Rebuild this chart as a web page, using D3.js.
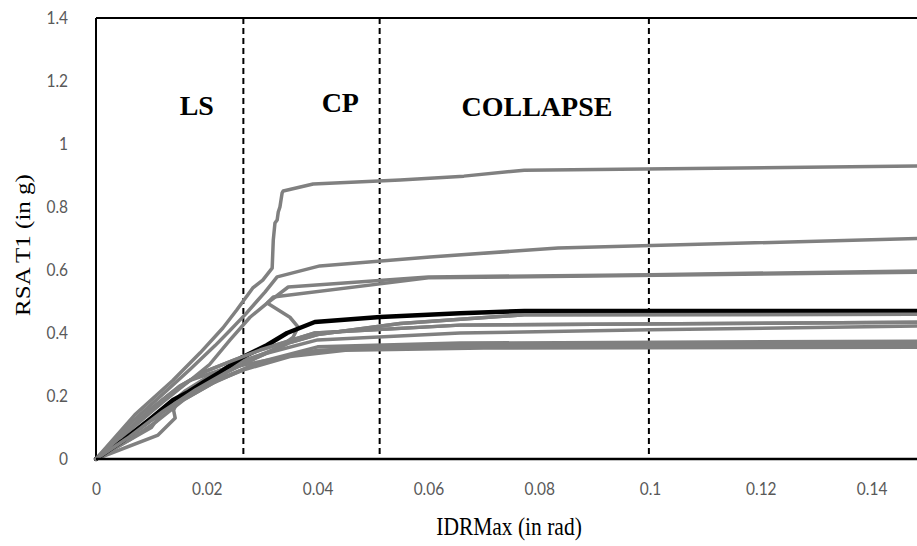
<!DOCTYPE html>
<html>
<head>
<meta charset="utf-8">
<script src="https://cdn.jsdelivr.net/npm/d3@7"></script>
<style>
  html, body { margin: 0; padding: 0; background: #fff; }
  svg { display: block; }
</style>
</head>
<body>
<svg id="chart" width="917" height="546"></svg>
<script>
// IDA curves: maximum inter-storey drift ratio vs. spectral acceleration at T1
const xTicks = [0, 0.02, 0.04, 0.06, 0.08, 0.1, 0.12, 0.14];
const yTicks = [0, 0.2, 0.4, 0.6, 0.8, 1, 1.2, 1.4];

// performance limit states (drift thresholds)
const limitStates = [0.0266, 0.0512, 0.0998];
const limitLabels = [
  { text: "LS", x: 0.0182 },
  { text: "CP", x: 0.0441 },
  { text: "COLLAPSE", x: 0.0796 }
];

// individual ground-motion records: [IDRmax, Sa(T1)]
const recordA = [[0,0],[0.007,0.14],[0.0139,0.25],[0.0188,0.337],[0.0229,0.416],[0.0254,0.473],[0.0283,0.543],[0.0301,0.568],[0.0318,0.606],[0.032,0.695],[0.0323,0.749],[0.0327,0.759],[0.0329,0.784],[0.0332,0.8],[0.0336,0.845],[0.0338,0.851],[0.0392,0.873],[0.0549,0.886],[0.0664,0.898],[0.0773,0.917],[0.16,0.932]];
const recordB = [[0,0],[0.006,0.11],[0.012,0.205],[0.017,0.285],[0.0215,0.36],[0.024,0.405],[0.027,0.46],[0.0305,0.53],[0.0327,0.578],[0.0404,0.613],[0.0603,0.641],[0.0834,0.67],[0.16,0.705]];
const recordC = [[0,0],[0.006,0.07],[0.011,0.14],[0.016,0.215],[0.021,0.27],[0.026,0.31],[0.0296,0.33],[0.0332,0.356],[0.0356,0.387],[0.0365,0.419],[0.035,0.45],[0.0309,0.495],[0.0347,0.546],[0.06,0.578],[0.1,0.585],[0.16,0.6]];
const recordD = [[0,0],[0.006,0.09],[0.012,0.18],[0.017,0.25],[0.0205,0.3],[0.0242,0.378],[0.0278,0.45],[0.0309,0.495],[0.032,0.514],[0.06,0.575],[0.16,0.595]];
const recordF1 = [[0,0],[0.006,0.07],[0.012,0.15],[0.018,0.22],[0.024,0.28],[0.03,0.33],[0.035,0.37],[0.04,0.395],[0.0549,0.43],[0.0773,0.458],[0.16,0.46]];
const recordF2 = [[0,0],[0.005,0.08],[0.01,0.16],[0.015,0.23],[0.02,0.28],[0.025,0.315],[0.0296,0.346],[0.0395,0.4],[0.0657,0.425],[0.16,0.435]];
const recordF3 = [[0,0],[0.0112,0.076],[0.0143,0.13],[0.014,0.155],[0.0148,0.187],[0.017,0.213],[0.021,0.25],[0.025,0.29],[0.0296,0.33],[0.04,0.378],[0.0657,0.4],[0.1,0.41],[0.16,0.425]];
const recordF4 = [[0,0],[0.006,0.06],[0.011,0.12],[0.016,0.19],[0.021,0.24],[0.026,0.28],[0.0296,0.308],[0.04,0.356],[0.0657,0.368],[0.16,0.375]];
const recordF5 = [[0,0],[0.008,0.1],[0.013,0.16],[0.018,0.22],[0.023,0.26],[0.028,0.295],[0.035,0.33],[0.045,0.352],[0.07,0.362],[0.16,0.365]];
const recordF6 = [[0,0],[0.007,0.07],[0.01,0.1],[0.012,0.15],[0.017,0.2],[0.022,0.25],[0.027,0.285],[0.035,0.325],[0.045,0.345],[0.07,0.352],[0.16,0.355]];
const recordF7 = [[0,0],[0.009,0.14],[0.013,0.2],[0.017,0.25],[0.022,0.28],[0.027,0.3],[0.033,0.32],[0.04,0.345],[0.06,0.358],[0.16,0.362]];
// median curve
const medianCurve = [[0,0],[0.005,0.06],[0.01,0.13],[0.0139,0.187],[0.0164,0.21],[0.0195,0.245],[0.0224,0.276],[0.0265,0.324],[0.0309,0.362],[0.0345,0.4],[0.0395,0.435],[0.0513,0.451],[0.0657,0.463],[0.0773,0.47],[0.16,0.47]];

const grayRecords = [recordF7, recordF6, recordF5, recordF4, recordF3, recordF2, recordF1, recordD, recordC, recordB, recordA];

const svg = d3.select("#chart");
const margin = { left: 96, top: 18, bottom: 459 };

const x = d3.scaleLinear().domain([0, 0.16]).range([margin.left, margin.left + 0.16 * 5540]);
const y = d3.scaleLinear().domain([0, 1.4]).range([margin.bottom, margin.top]);

const tickFont = "Lato, 'Open Sans', sans-serif";
const serif = "'Liberation Serif', 'Times New Roman', serif";
const squeeze = 0.86;

// frame
svg.append("line").attr("x1", x(0)).attr("x2", 917).attr("y1", y(1.4)).attr("y2", y(1.4))
  .attr("stroke", "#000").attr("stroke-width", 2);
svg.append("line").attr("x1", x(0)).attr("x2", x(0)).attr("y1", y(1.4)).attr("y2", y(0))
  .attr("stroke", "#000").attr("stroke-width", 2);

// x axis
const xAxis = d3.axisBottom(x).tickValues(xTicks).tickSize(0).tickPadding(23)
  .tickFormat(d => d3.format("~g")(d));
const gx = svg.append("g").attr("transform", `translate(0,${y(0)})`).call(xAxis);
gx.select(".domain").remove();
gx.selectAll("text").attr("fill", "#595959").style("font-family", tickFont).style("font-size", "18px")
  .attr("transform", `scale(${squeeze},1)`);

// y axis
const yAxis = d3.axisLeft(y).tickValues(yTicks).tickSize(0).tickPadding(28)
  .tickFormat(d => d3.format("~g")(d));
const gy = svg.append("g").attr("transform", `translate(${x(0)},0)`).call(yAxis);
gy.select(".domain").remove();
gy.selectAll("text").attr("fill", "#595959").style("font-family", tickFont).style("font-size", "18px")
  .attr("x", -28 / squeeze).attr("transform", `scale(${squeeze},1)`);

// limit-state thresholds
svg.append("g").selectAll("line").data(limitStates).join("line")
  .attr("x1", d => x(d)).attr("x2", d => x(d))
  .attr("y1", y(1.4)).attr("y2", y(0))
  .attr("stroke", "#000").attr("stroke-width", 2).attr("stroke-dasharray", "6,4");

svg.append("g").selectAll("text").data(limitLabels).join("text")
  .attr("x", d => x(d.x)).attr("y", (d, i) => [115, 112, 116][i])
  .attr("text-anchor", "middle")
  .style("font-family", serif).style("font-weight", "bold").style("font-size", "28px")
  .text(d => d.text);

// curves
const line = d3.line().x(d => x(d[0])).y(d => y(d[1])).curve(d3.curveLinear);
const curves = svg.append("g").attr("fill", "none").attr("stroke-linejoin", "round").attr("stroke-linecap", "round");
curves.selectAll("path.rec").data(grayRecords).join("path").attr("class", "rec")
  .attr("d", line).attr("stroke", "#808080").attr("stroke-width", 3.5);
curves.append("path").datum(medianCurve).attr("d", line)
  .attr("stroke", "#000").attr("stroke-width", 4.5);
// two records drawn again so they sit above the median on the plateau
curves.selectAll("path.rec2").data([recordF1, recordF2]).join("path").attr("class", "rec2")
  .attr("d", line).attr("stroke", "#808080").attr("stroke-width", 3.5);

// bottom axis line on top
svg.append("line").attr("x1", x(0)).attr("x2", 917).attr("y1", y(0)).attr("y2", y(0))
  .attr("stroke", "#000").attr("stroke-width", 2.5);

// axis titles (narrow set)
svg.append("text").attr("transform", `translate(509,535) scale(${squeeze},1)`).attr("text-anchor", "middle")
  .style("font-family", serif).style("font-size", "25px").text("IDRMax (in rad)");
svg.append("text").attr("transform", `translate(30,245) rotate(-90) scale(1,${squeeze})`).attr("text-anchor", "middle")
  .style("font-family", serif).style("font-size", "25px").text("RSA T1 (in g)");
</script>
</body>
</html>
